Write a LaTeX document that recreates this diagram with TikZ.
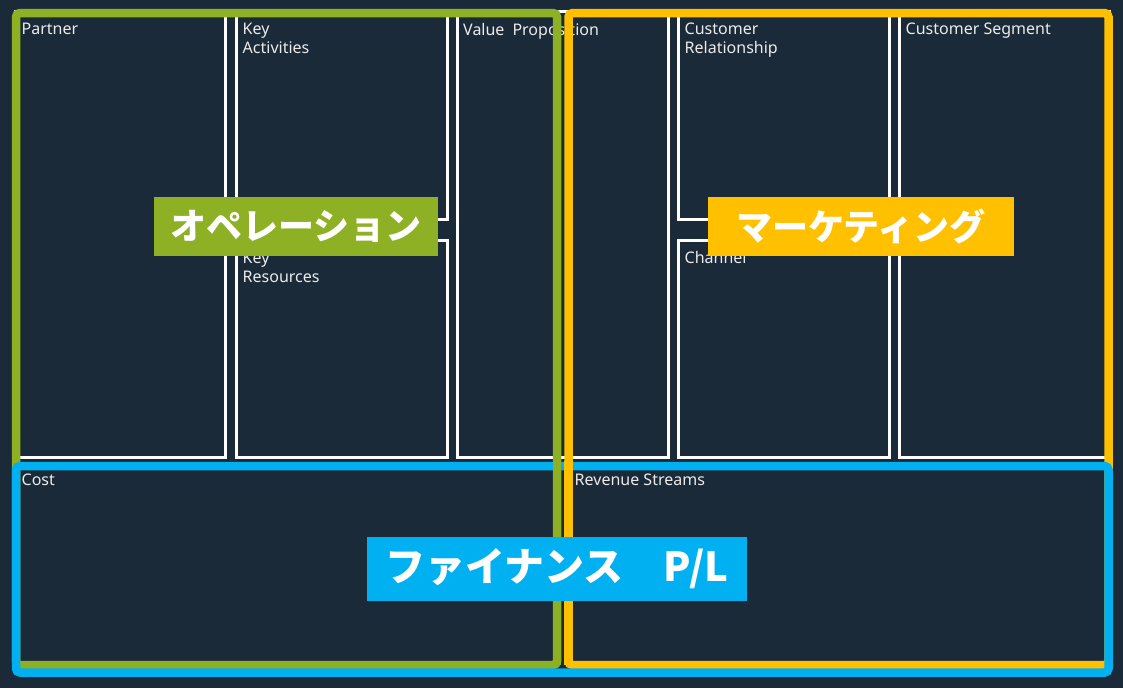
\documentclass[tikz,border=0pt]{standalone}
\usepackage{fontspec}
\setmainfont{Noto Sans}
\newfontfamily\jpfont{Noto Sans CJK JP}
\usetikzlibrary{positioning}
\definecolor{canvasbg}{HTML}{1B2A38}
\definecolor{opgreen}{HTML}{8DB024}
\definecolor{mkyellow}{HTML}{FFC000}
\definecolor{finblue}{HTML}{00B0F0}
\tikzset{
  cell/.style={draw=white, line width=3pt, anchor=north west, inner sep=0pt, outer sep=0pt},
  celltext/.style={text=white!92!black, font=\fontsize{16}{19}\selectfont, align=left, inner sep=0pt},
  frame/.style={line width=8.5pt, rounded corners=4pt},
  tag/.style={text=white, font=\jpfont\bfseries\fontsize{36}{36}\selectfont, inner sep=0pt, minimum height=59pt}
}
\begin{document}
\begin{tikzpicture}[x=1pt,y=-1pt]
  \fill[canvasbg] (0,0) rectangle (1123,688);
  \useasboundingbox (0,0) rectangle (1123,688);
  % canvas blocks
  \node[cell, minimum width=210pt, minimum height=446.5pt] (partner) at (15,11) {};
  \node[cell, minimum width=211pt, minimum height=208pt] (keyact) at (236,11) {};
  \node[cell, minimum width=211pt, minimum height=217.5pt] (keyres) at (236,240) {};
  \node[cell, minimum width=211pt, minimum height=446.5pt] (valueprop) at (457,11) {};
  \node[cell, minimum width=211pt, minimum height=208pt] (custrel) at (678,11) {};
  \node[cell, minimum width=211pt, minimum height=217.5pt] (channel) at (678,240) {};
  \node[cell, minimum width=210pt, minimum height=446.5pt] (custseg) at (899,11) {};
  \node[cell, draw=none, minimum width=542pt, minimum height=203pt] (cost) at (15,462) {};
  \node[cell, draw=none, minimum width=540pt, minimum height=203pt] (revenue) at (568,462) {};
  \node[celltext, below right=12pt and 6.5pt of partner.north west] (partnertxt) {Partner};
  \node[celltext, below right=12pt and 6.5pt of keyact.north west] (keyacttxt) {Key\\Activities};
  \node[celltext, below right=11.5pt and 6.5pt of keyres.north west] (keyrestxt) {Key\\Resources};
  \node[celltext, below right=12pt and 6pt of valueprop.north west] (valueproptxt) {Value\enspace Proposition};
  \node[celltext, below right=12pt and 6.5pt of custrel.north west] (custreltxt) {Customer\\Relationship};
  \node[celltext, below right=11.5pt and 6.5pt of channel.north west] (channeltxt) {Channel};
  \node[celltext, below right=12pt and 6.5pt of custseg.north west] (custsegtxt) {Customer Segment};
  \node[celltext, below right=12pt and 6.5pt of cost.north west] (costtxt) {Cost};
  \node[celltext, below right=12pt and 6.5pt of revenue.north west] (revenuetxt) {Revenue Streams};
  % the three areas
  \draw[frame, opgreen] (16,13) rectangle (557,665);
  \draw[frame, mkyellow] (568.5,13) rectangle (1108.5,665);
  \draw[frame, finblue] (16,466) rectangle (1108.5,672.5);
  \draw[opgreen, line width=8.5pt] (557,461) -- (557,665);
  \draw[mkyellow, line width=8.5pt] (568.5,461) -- (568.5,665);
  \node[tag, fill=opgreen, minimum width=284pt] (optag) at (296,226.5) {オペレーション};
  \node[tag, fill=mkyellow, minimum width=306pt] (mktag) at (861,226.5) {マーケティング};
  \node[tag, fill=finblue, minimum width=380pt, minimum height=64pt, font=\jpfont\bfseries\fontsize{40}{40}\selectfont] (fintag) at (557,569) {ファイナンス　P/L};
\end{tikzpicture}
\end{document}
